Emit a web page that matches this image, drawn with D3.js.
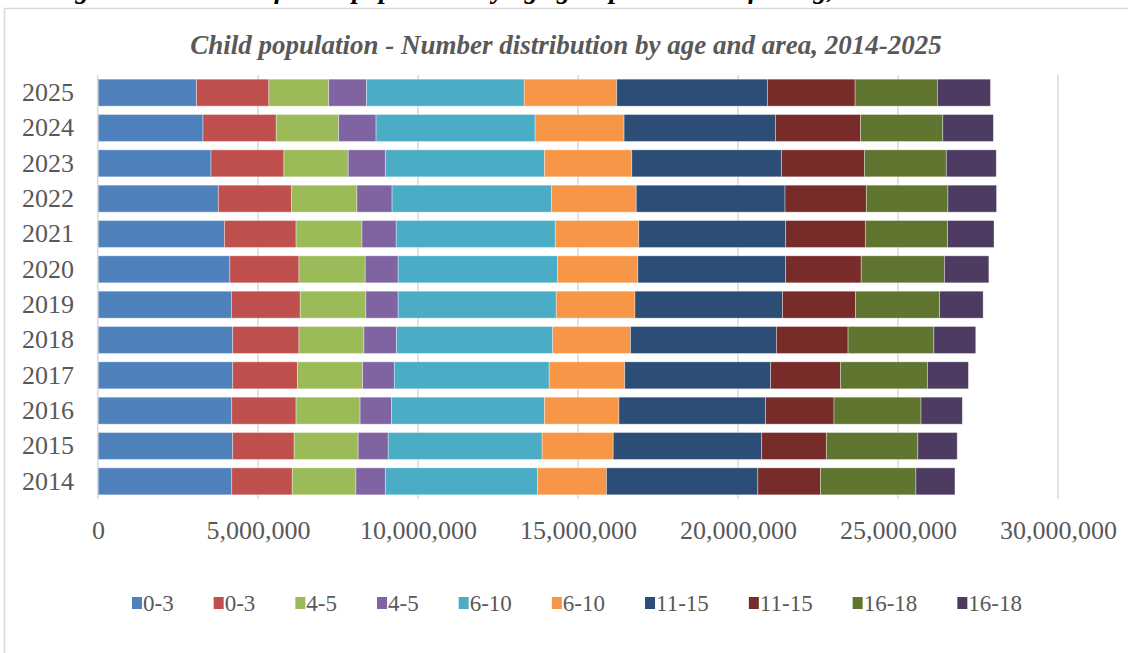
<!DOCTYPE html>
<html>
<head>
<meta charset="utf-8">
<script src="https://cdn.jsdelivr.net/npm/d3@7"></script>
<style>
  html, body { margin: 0; padding: 0; background: #fff; }
  svg { display: block; }
  text { font-family: "Liberation Serif", "Times New Roman", serif; }
</style>
</head>
<body>
<svg id="chart" width="1128" height="653"></svg>
<script>
// ---- Data ----
const years = [2025, 2024, 2023, 2022, 2021, 2020, 2019, 2018, 2017, 2016, 2015, 2014];
const seriesLabels = ["0-3", "0-3", "4-5", "4-5", "6-10", "6-10", "11-15", "11-15", "16-18", "16-18"];
const seriesColors = ["#4F81BD", "#C0504D", "#9BBB59", "#8064A2", "#4BACC6", "#F79646", "#2C4D75", "#772C2A", "#5F7530", "#4D3B62"];
const tickValues = [0, 5000000, 10000000, 15000000, 20000000, 25000000, 30000000];

const s0 = [3080000, 3280000, 3530000, 3760000, 3950000, 4120000, 4170000, 4210000, 4210000, 4180000, 4210000, 4180000];
const s1 = [2260000, 2290000, 2280000, 2290000, 2240000, 2160000, 2150000, 2070000, 2020000, 2010000, 1920000, 1890000];
const s2 = [1870000, 1950000, 2010000, 2040000, 2060000, 2070000, 2050000, 2030000, 2040000, 2000000, 2000000, 1990000];
const s3 = [1180000, 1170000, 1160000, 1100000, 1070000, 1030000, 1010000, 1020000, 990000, 980000, 940000, 920000];
const s4 = [4930000, 4970000, 4970000, 4980000, 4970000, 4980000, 4940000, 4880000, 4840000, 4780000, 4810000, 4760000];
const s5 = [2890000, 2780000, 2730000, 2650000, 2610000, 2510000, 2460000, 2430000, 2360000, 2330000, 2220000, 2150000];
const s6 = [4710000, 4730000, 4680000, 4650000, 4590000, 4620000, 4610000, 4560000, 4560000, 4580000, 4640000, 4730000];
const s7 = [2740000, 2660000, 2590000, 2540000, 2490000, 2360000, 2280000, 2240000, 2180000, 2140000, 2020000, 1960000];
const s8 = [2570000, 2570000, 2560000, 2550000, 2570000, 2600000, 2630000, 2680000, 2720000, 2720000, 2860000, 2980000];
const s9 = [1660000, 1580000, 1560000, 1520000, 1450000, 1390000, 1360000, 1310000, 1280000, 1290000, 1230000, 1220000];
const seriesValues = [s0, s1, s2, s3, s4, s5, s6, s7, s8, s9];

const title = "Child population - Number distribution by age and area, 2014-2025";
const captionAbove = "Figure 4: Number of child population by age group and area of living, 2014-2025";

// ---- Build table ----
const keys = seriesValues.map((_, i) => "s" + i);
const table = years.map((y, yi) => {
  const row = { year: y };
  keys.forEach((k, i) => { row[k] = seriesValues[i][yi]; });
  return row;
});
const stacked = d3.stack().keys(keys)(table);

// ---- Layout ----
const svg = d3.select("#chart");
const plot = { left: 98, right: 1058, top: 75, bottom: 499 };

const x = d3.scaleLinear().domain([0, 30000000]).range([plot.left, plot.right]);
const y = d3.scaleBand().domain(years).range([plot.top, plot.bottom])
  .paddingInner(0.236).paddingOuter(0.118);

// caption text cut off at top (as in the reference)
svg.append("text")
  .attr("x", 50).attr("y", -2)
  .attr("font-size", 27).attr("font-weight", "bold").attr("font-style", "italic")
  .attr("fill", "#000")
  .text(captionAbove);

// chart border
svg.append("rect")
  .attr("x", 4.5).attr("y", 8.5).attr("width", 1200).attr("height", 700)
  .attr("fill", "none").attr("stroke", "#d9d9d9").attr("stroke-width", 1.5);

// title
svg.append("text")
  .attr("x", 566).attr("y", 54)
  .attr("text-anchor", "middle")
  .attr("font-size", 27).attr("font-weight", "bold").attr("font-style", "italic")
  .attr("fill", "#595959")
  .text(title);

// gridlines
svg.append("g")
  .selectAll("line")
  .data(tickValues.slice(1))
  .join("line")
  .attr("x1", d => x(d)).attr("x2", d => x(d))
  .attr("y1", plot.top).attr("y2", plot.bottom)
  .attr("stroke", "#d9d9d9").attr("stroke-width", 1.5);

// bars
svg.append("g")
  .selectAll("g")
  .data(stacked)
  .join("g")
  .attr("fill", (d, i) => seriesColors[i])
  .selectAll("rect")
  .data(d => d)
  .join("rect")
  .attr("x", d => x(d[0]))
  .attr("width", d => x(d[1]) - x(d[0]))
  .attr("y", d => y(d.data.year))
  .attr("height", y.bandwidth())
  .attr("stroke", "#ffffff").attr("stroke-opacity", 0.45).attr("stroke-width", 0.8);

// vertical (category) axis line
svg.append("line")
  .attr("x1", plot.left - 0.3).attr("x2", plot.left - 0.3)
  .attr("y1", plot.top).attr("y2", plot.bottom)
  .attr("stroke", "#d9d9d9").attr("stroke-width", 1.5);

// y axis labels
const yAxis = d3.axisLeft(y).tickSize(0).tickPadding(24);
const gy = svg.append("g").attr("transform", `translate(${plot.left},0)`).call(yAxis);
gy.select(".domain").remove();
gy.selectAll("text")
  .attr("font-family", "Liberation Serif, Times New Roman, serif")
  .attr("font-size", 26).attr("fill", "#595959");

// x axis labels
const xAxis = d3.axisBottom(x).tickValues(tickValues).tickSize(0).tickPadding(22)
  .tickFormat(d3.format(","));
const gx = svg.append("g").attr("transform", `translate(0,${plot.bottom})`).call(xAxis);
gx.select(".domain").remove();
gx.selectAll("text")
  .attr("font-family", "Liberation Serif, Times New Roman, serif")
  .attr("font-size", 26).attr("fill", "#595959");

// legend
const legend = svg.append("g");
const items = legend.selectAll("g").data(seriesLabels).join("g");
items.append("rect")
  .attr("width", 10).attr("height", 12)
  .attr("y", -6)
  .attr("fill", (d, i) => seriesColors[i]);
items.append("text")
  .attr("x", 11).attr("y", 0).attr("dy", "0.35em")
  .attr("font-size", 23).attr("fill", "#595959")
  .text(d => d);
let widths = [];
items.each(function () {
  widths.push(10 + 1 + this.querySelector("text").getComputedTextLength());
});
const gap = 40;
const total = d3.sum(widths) + gap * (widths.length - 1);
let cx = 577 - total / 2;
items.attr("transform", (d, i) => {
  const t = `translate(${cx},603)`;
  cx += widths[i] + gap;
  return t;
});
</script>
</body>
</html>
